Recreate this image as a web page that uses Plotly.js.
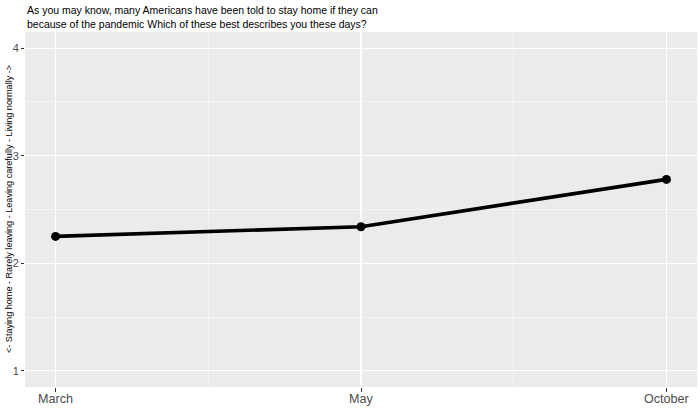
<!DOCTYPE html>
<html>
<head>
<meta charset="utf-8">
<script src="https://cdn.plot.ly/plotly-3.0.1.min.js"></script>
<style>html,body{margin:0;padding:0;background:#fff;}#chart{width:700px;height:408px;}</style>
</head>
<body>
<div id="chart"></div>
<script>
const months = ["March", "May", "October"];
const monthPos = [0, 1, 2];
const scores = [2.25, 2.34, 2.78];
const yTicks = [1, 2, 3, 4];
const titleText = "As you may know, many Americans have been told to stay home if they can<br>because of the pandemic Which of these best describes you these days?";
const yTitle = "<- Staying home - Rarely leaving - Leaving carefully - Living normally ->";

const trace = {
  x: monthPos,
  y: scores,
  mode: "lines+markers",
  line: {color: "#000000", width: 3.6},
  marker: {color: "#000000", size: 9},
  hoverinfo: "skip",
  showlegend: false
};

const annotations = [
  {
    text: titleText, xref: "paper", yref: "paper", x: 0, y: 1,
    xanchor: "left", yanchor: "bottom", align: "left", yshift: 0,
    showarrow: false, font: {size: 10.5, color: "#000000"}
  },
  {
    text: yTitle, xref: "paper", yref: "paper", x: -16.5/672, y: 0.5,
    xanchor: "center", yanchor: "middle", textangle: -90,
    showarrow: false, font: {size: 9.1, color: "#000000"}
  }
].concat(months.map((m, i) => ({
  text: m, xref: "x", yref: "paper", x: monthPos[i], y: 0,
  xanchor: "center", yanchor: "top", yshift: -3,
  showarrow: false, font: {size: 12.6, color: "#4D4D4D"}
})));

const layout = {
  width: 700,
  height: 408,
  margin: {l: 25, r: 3, t: 32, b: 21},
  paper_bgcolor: "#ffffff",
  plot_bgcolor: "#EBEBEB",
  font: {family: "Liberation Sans, Arial, sans-serif", color: "#000000"},
  annotations: annotations,
  xaxis: {
    range: [-0.1, 2.1],
    tickmode: "array",
    tickvals: monthPos,
    ticktext: months.map(() => ""),
    ticks: "outside",
    ticklen: 3.7,
    tickwidth: 1,
    tickcolor: "#333333",
    showgrid: true,
    gridcolor: "#FFFFFF",
    gridwidth: 1.1,
    zeroline: false,
    showline: false,
    minor: {tickmode: "array", tickvals: [0.5, 1.5], showgrid: true, gridcolor: "#FFFFFF", gridwidth: 0.5, ticks: ""},
    fixedrange: true
  },
  yaxis: {
    range: [0.85, 4.15],
    tickmode: "array",
    tickvals: yTicks,
    ticktext: yTicks.map(String),
    ticks: "outside",
    ticklen: 3,
    tickwidth: 1,
    tickcolor: "#333333",
    tickfont: {size: 11, color: "#4D4D4D"},
    showgrid: true,
    gridcolor: "#FFFFFF",
    gridwidth: 1.1,
    zeroline: false,
    showline: false,
    minor: {tickmode: "array", tickvals: [1.5, 2.5, 3.5], showgrid: true, gridcolor: "#FFFFFF", gridwidth: 0.5, ticks: ""},
    fixedrange: true
  }
};

Plotly.newPlot("chart", [trace], layout, {displayModeBar: false, staticPlot: true});
</script>
</body>
</html>
